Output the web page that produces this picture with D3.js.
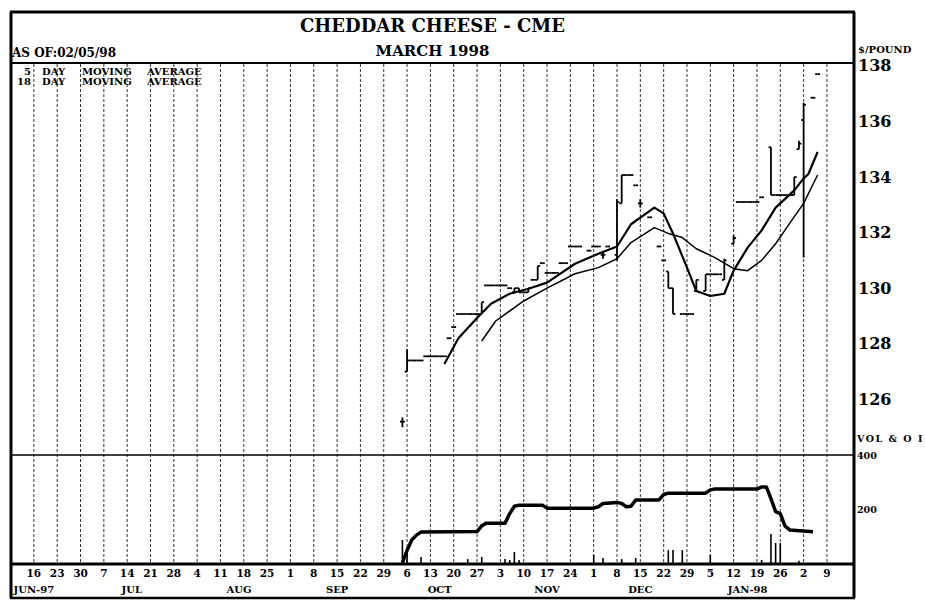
<!DOCTYPE html>
<html>
<head>
<meta charset="utf-8">
<script src="https://cdn.jsdelivr.net/npm/d3@7"></script>
<style>
    body { margin: 0; background: #fff; }
    svg { display: block; }
    text { font-family: "DejaVu Serif", serif; font-weight: bold; fill: #000; }
</style>
</head>
<body>
<div id="chart"></div>
<script>
// Cheddar Cheese - CME, March 1998 contract. Daily bars on a trading-day (weekday) axis.
(function () {
    "use strict";

    // daily bars: date, open, high, low, close ($/pound)
    var barDates = ["1997-10-03", "1997-10-06", "1997-10-07", "1997-10-08", "1997-10-09", "1997-10-10",
        "1997-10-13", "1997-10-14", "1997-10-15", "1997-10-16", "1997-10-17", "1997-10-20", "1997-10-21",
        "1997-10-22", "1997-10-23", "1997-10-24", "1997-10-27", "1997-10-28", "1997-10-29", "1997-10-30",
        "1997-10-31", "1997-11-03", "1997-11-04", "1997-11-05", "1997-11-06", "1997-11-07", "1997-11-10",
        "1997-11-11", "1997-11-12", "1997-11-13", "1997-11-14", "1997-11-17", "1997-11-18", "1997-11-19",
        "1997-11-20", "1997-11-21", "1997-11-24", "1997-11-25", "1997-11-26", "1997-11-28", "1997-12-01",
        "1997-12-02", "1997-12-03", "1997-12-04", "1997-12-08", "1997-12-09", "1997-12-10", "1997-12-11",
        "1997-12-12", "1997-12-15", "1997-12-17", "1997-12-19", "1997-12-22", "1997-12-23", "1997-12-24",
        "1997-12-26", "1997-12-29", "1997-12-30", "1997-12-31", "1998-01-02", "1998-01-05", "1998-01-06",
        "1998-01-07", "1998-01-08", "1998-01-12", "1998-01-13", "1998-01-14", "1998-01-15", "1998-01-16",
        "1998-01-19", "1998-01-20", "1998-01-22", "1998-01-23", "1998-01-26", "1998-01-27", "1998-01-28",
        "1998-01-29", "1998-01-30", "1998-02-02", "1998-02-04", "1998-02-05"];
    var barOpen = [125.2, 127.0, 127.4, 127.4, 127.4, 127.55, 127.55, 127.55, 127.55, 127.55, 128.2, 128.6, 129.07,
        129.07, 129.07, 129.07, 129.07, 129.07, 130.1, 130.1, 130.1, 130.1, 130.1, 130.0, 129.85, 130.0, 129.85,
        129.85, 130.3, 130.3, 130.9, 130.55, 130.55, 130.55, 130.9, 130.9, 131.5, 131.5, 131.5, 131.35, 131.5,
        131.5, 131.2, 131.5, 131.2, 133.05, 134.07, 134.07, 133.7, 133.05, 132.55, 131.5, 131.0, 130.6, 130.0,
        129.07, 129.07, 129.07, 129.9, 129.9, 130.5, 130.5, 130.5, 130.3, 131.6, 133.1, 133.1, 133.1, 133.1,
        133.1, 133.27, 135.07, 133.35, 133.35, 133.35, 133.35, 133.35, 135.0, 136.05, 136.85, 137.7];
    var barHigh = [125.35, 127.8, 127.4, 127.4, 127.4, 127.55, 127.55, 127.55, 127.55, 127.55, 128.2, 128.6, 129.07,
        129.07, 129.07, 129.07, 129.07, 129.5, 130.1, 130.1, 130.1, 130.1, 130.1, 130.0, 130.0, 130.0, 129.85,
        130.0, 130.3, 130.8, 130.9, 130.55, 130.55, 130.55, 130.9, 130.9, 131.5, 131.5, 131.5, 131.35, 131.5,
        131.5, 131.3, 131.5, 133.2, 134.07, 134.07, 134.07, 133.7, 133.2, 132.55, 131.5, 131.0, 130.6, 130.0,
        129.07, 129.07, 129.07, 130.3, 130.5, 130.5, 130.5, 130.5, 131.06, 131.9, 133.1, 133.1, 133.1, 133.1,
        133.1, 133.27, 135.07, 133.35, 133.35, 133.35, 133.35, 134.0, 135.3, 136.67, 136.85, 137.7];
    var barLow = [125.0, 127.0, 127.4, 127.4, 127.4, 127.55, 127.55, 127.55, 127.55, 127.55, 128.2, 128.6, 129.07,
        129.07, 129.07, 129.07, 129.07, 129.07, 130.1, 130.1, 130.1, 130.1, 130.1, 130.0, 129.85, 129.85, 129.85,
        129.85, 130.3, 130.3, 130.9, 130.55, 130.55, 130.55, 130.9, 130.9, 131.5, 131.5, 131.5, 131.35, 131.5,
        131.5, 131.06, 131.5, 131.0, 133.05, 134.07, 134.07, 133.7, 132.9, 132.55, 131.5, 131.0, 130.0, 129.07,
        129.07, 129.07, 129.07, 129.9, 129.9, 130.5, 130.5, 130.5, 130.3, 131.6, 133.1, 133.1, 133.1, 133.1,
        133.1, 133.27, 133.35, 133.35, 133.35, 133.35, 133.35, 133.35, 135.0, 131.1, 136.85, 137.7];
    var barClose = [125.2, 127.4, 127.4, 127.4, 127.4, 127.55, 127.55, 127.55, 127.55, 127.55, 128.2, 128.6, 129.07,
        129.07, 129.07, 129.07, 129.07, 129.5, 130.1, 130.1, 130.1, 130.1, 130.1, 130.0, 130.0, 129.85, 129.85,
        130.0, 130.3, 130.8, 130.9, 130.55, 130.55, 130.55, 130.9, 130.9, 131.5, 131.5, 131.5, 131.35, 131.5,
        131.5, 131.2, 131.5, 133.1, 134.07, 134.07, 134.07, 133.7, 133.05, 132.55, 131.5, 131.0, 130.0, 129.07,
        129.07, 129.07, 129.07, 130.3, 130.5, 130.5, 130.5, 130.5, 131.0, 131.8, 133.1, 133.1, 133.1, 133.1,
        133.1, 133.27, 133.35, 133.35, 133.35, 133.35, 133.35, 134.0, 135.2, 136.6, 136.85, 137.7];

    // moving averages as printed on the chart
    var ma5Dates = ["1997-10-16", "1997-10-21", "1997-10-27", "1997-10-30", "1997-11-05", "1997-11-11",
        "1997-11-17", "1997-11-25", "1997-12-02", "1997-12-08", "1997-12-11", "1997-12-18", "1997-12-22",
        "1997-12-24", "1997-12-29", "1997-12-31", "1998-01-05", "1998-01-08", "1998-01-12", "1998-01-15",
        "1998-01-20", "1998-01-23", "1998-01-29", "1998-02-02", "1998-02-03", "1998-02-05"];
    var ma5Values = [127.27, 128.2, 128.93, 129.44, 129.8, 129.98, 130.2, 130.88, 131.24, 131.5, 132.3, 132.9,
        132.69, 131.97, 130.74, 129.9, 129.72, 129.8, 130.63, 131.46, 132.08, 132.9, 133.52, 133.95, 134.1, 134.9];
    var ma18Dates = ["1997-10-28", "1997-10-31", "1997-11-10", "1997-11-17", "1997-11-25", "1997-12-02",
        "1997-12-08", "1997-12-11", "1997-12-18", "1997-12-23", "1997-12-26", "1997-12-31", "1998-01-06",
        "1998-01-12", "1998-01-15", "1998-01-20", "1998-01-23", "1998-01-28", "1998-02-02", "1998-02-05"];
    var ma18Values = [128.1, 128.82, 129.54, 130.0, 130.52, 130.74, 131.06, 131.64, 132.18, 131.97, 131.82,
        131.42, 131.1, 130.7, 130.63, 131.0, 131.6, 132.33, 133.05, 134.07];

    // volume (contracts)
    var volDates = ["1997-10-03", "1997-10-06", "1997-10-09", "1997-10-23", "1997-10-28", "1997-11-04",
        "1997-11-05", "1997-11-06", "1997-11-07", "1997-12-01", "1997-12-03", "1997-12-09", "1997-12-12",
        "1997-12-23", "1997-12-24", "1997-12-26", "1998-01-05", "1998-01-20", "1998-01-22", "1998-01-23",
        "1998-01-26", "1998-01-30"];
    var volValues = [88, 60, 26, 18, 26, 18, 15, 44, 15, 33, 22, 18, 22, 51, 51, 51, 33, 15, 110, 77, 77, 12];

    // open interest
    var oiDates = ["1997-10-03", "1997-10-06", "1997-10-07", "1997-10-08", "1997-10-09", "1997-10-27",
        "1997-10-28", "1997-10-29", "1997-11-04", "1997-11-05", "1997-11-06", "1997-11-07", "1997-11-14",
        "1997-11-17", "1997-12-01", "1997-12-02", "1997-12-03", "1997-12-08", "1997-12-09", "1997-12-10",
        "1997-12-11", "1997-12-12", "1997-12-19", "1997-12-22", "1997-12-23", "1998-01-02", "1998-01-05",
        "1998-01-06", "1998-01-19", "1998-01-20", "1998-01-21", "1998-01-22", "1998-01-23", "1998-01-26",
        "1998-01-27", "1998-01-28", "1998-02-04"];
    var oiValues = [5, 50, 88, 106, 117, 119, 140, 150, 150, 185, 212, 216, 216, 205, 205, 210, 222, 226, 222,
        210, 212, 235, 235, 255, 260, 260, 272, 275, 275, 283, 283, 240, 192, 185, 140, 125, 118];

    var priceTicks = [126, 128, 130, 132, 134, 136, 138];
    var volTicks = [200, 400];
    var monthDates = ["1997-06-15", "1997-07-15", "1997-08-15", "1997-09-15", "1997-10-15", "1997-11-15",
        "1997-12-15", "1998-01-15"];
    var monthLabels = ["JUN-97", "JUL", "AUG", "SEP", "OCT", "NOV", "DEC", "JAN-98"];

    var W = 925, H = 602;
    var L = 11, R = 854, TOP = 12, TITLE_B = 63, SPLIT = 455, AXIS = 564, BOTTOM = 598;

    var parse = d3.timeParse("%Y-%m-%d");
    var base = parse("1997-06-16");
    // weekday count from Mon 16 Jun 1997
    function tradeIndex(d) {
        var days = Math.round((d - base) / 864e5);
        var w = Math.floor(days / 7), r = days - w * 7;
        return w * 5 + Math.min(r, 5);
    }

    var x = d3.scaleLinear().domain([-4.9, 175.8]).range([L, R]);
    var yP = d3.scaleLinear().domain([124, 138.1]).range([SPLIT, TITLE_B]);
    var yV = d3.scaleLinear().domain([0, 400]).range([AXIS, SPLIT]);
    function xs(s) { return x(tradeIndex(parse(s))); }

    var svg = d3.select("#chart").append("svg").attr("width", W).attr("height", H);
    svg.append("rect").attr("width", W).attr("height", H).attr("fill", "#fff");

    // weekly grid
    var mondays = d3.timeMonday.range(parse("1997-06-16"), parse("1998-02-10"));
    svg.selectAll("line.grid").data(mondays).enter().append("line").attr("class", "grid")
        .attr("x1", function (d) { return x(tradeIndex(d)); })
        .attr("x2", function (d) { return x(tradeIndex(d)); })
        .attr("y1", TITLE_B + 1).attr("y2", AXIS)
        .attr("stroke", "#000").attr("stroke-width", 1).attr("stroke-dasharray", "3,2").attr("opacity", 0.8);

    svg.selectAll("text.day").data(mondays).enter().append("text").attr("class", "day")
        .attr("x", function (d) { return x(tradeIndex(d)); }).attr("y", 577)
        .attr("text-anchor", "middle").style("font-size", "10.5px")
        .text(function (d) { return d.getDate(); });
    svg.selectAll("text.month").data(monthDates).enter().append("text").attr("class", "month")
        .attr("x", function (d) { return xs(d); }).attr("y", 593)
        .attr("text-anchor", "middle").style("font-size", "10px")
        .text(function (d, i) { return monthLabels[i]; });

    // frame
    function hline(y, x1, x2, w) {
        svg.append("line").attr("x1", x1).attr("x2", x2).attr("y1", y).attr("y2", y)
            .attr("stroke", "#000").attr("stroke-width", w);
    }
    function vline(xv, y1, y2, w) {
        svg.append("line").attr("x1", xv).attr("x2", xv).attr("y1", y1).attr("y2", y2)
            .attr("stroke", "#000").attr("stroke-width", w);
    }
    hline(TOP, L - 1, R + 1, 3);
    hline(TITLE_B, L, R, 2);
    hline(SPLIT, L, R, 1.5);
    hline(AXIS, L, R, 3);
    hline(BOTTOM, L - 1, R + 1, 2.5);
    vline(L, TOP, BOTTOM, 3);
    vline(R, TOP, BOTTOM, 3);

    // titles
    svg.append("text").attr("x", (L + R) / 2).attr("y", 32).attr("text-anchor", "middle")
        .style("font-size", "18px").text("CHEDDAR CHEESE - CME");
    svg.append("text").attr("x", (L + R) / 2).attr("y", 56).attr("text-anchor", "middle")
        .style("font-size", "15px").text("MARCH 1998");
    svg.append("text").attr("x", 12).attr("y", 57).style("font-size", "12px").text("AS OF:02/05/98");

    // legend
    [5, 18].forEach(function (n, i) {
        var yy = 75 + i * 9.5;
        svg.append("text").attr("x", 31).attr("y", yy).attr("text-anchor", "end").style("font-size", "10px").text(n);
        svg.append("text").attr("x", 42).attr("y", yy).style("font-size", "10px").text("DAY");
        svg.append("text").attr("x", 82).attr("y", yy).style("font-size", "10px").text("MOVING");
        svg.append("text").attr("x", 147).attr("y", yy).style("font-size", "10px").text("AVERAGE");
    });

    // right axes
    var ga = svg.append("g").attr("transform", "translate(" + (R + 1) + ",0)")
        .call(d3.axisRight(yP).tickValues(priceTicks).tickSize(0).tickPadding(3).tickFormat(d3.format("d")));
    ga.select(".domain").remove();
    ga.selectAll("text").style("font-size", "16px").style("font-family", "DejaVu Serif").attr("fill", "#000");
    var gv = svg.append("g").attr("transform", "translate(" + (R + 1) + ",0)")
        .call(d3.axisRight(yV).tickValues(volTicks).tickSize(0).tickPadding(2).tickFormat(d3.format("d")));
    gv.select(".domain").remove();
    gv.selectAll("text").style("font-size", "9.5px").style("font-family", "DejaVu Serif").attr("fill", "#000");
    svg.append("text").attr("x", 858).attr("y", 53).style("font-size", "10px").text("$/POUND");
    svg.append("text").attr("x", 857).attr("y", 442).style("font-size", "9.5px")
        .style("letter-spacing", "1.5px").text("VOL & O I");

    // price bars
    var tick = 2.4;
    var bars = svg.append("g").attr("stroke", "#000").attr("stroke-width", 1.8);
    barDates.forEach(function (d, i) {
        var xv = xs(d);
        if (barHigh[i] > barLow[i]) {
            bars.append("line").attr("x1", xv).attr("x2", xv)
                .attr("y1", yP(barHigh[i])).attr("y2", yP(barLow[i]));
        }
        bars.append("line").attr("x1", xv - tick).attr("x2", xv)
            .attr("y1", yP(barOpen[i])).attr("y2", yP(barOpen[i]));
        bars.append("line").attr("x1", xv).attr("x2", xv + tick)
            .attr("y1", yP(barClose[i])).attr("y2", yP(barClose[i]));
    });

    // moving averages
    var maLine = d3.line().x(function (d) { return xs(d[0]); }).y(function (d) { return yP(d[1]); });
    svg.append("path").datum(d3.zip(ma5Dates, ma5Values)).attr("d", maLine)
        .attr("fill", "none").attr("stroke", "#000").attr("stroke-width", 2.2).attr("stroke-linejoin", "round");
    svg.append("path").datum(d3.zip(ma18Dates, ma18Values)).attr("d", maLine)
        .attr("fill", "none").attr("stroke", "#000").attr("stroke-width", 1.5).attr("stroke-linejoin", "round");

    // volume spikes
    svg.selectAll("line.vol").data(d3.zip(volDates, volValues)).enter().append("line").attr("class", "vol")
        .attr("x1", function (d) { return xs(d[0]); }).attr("x2", function (d) { return xs(d[0]); })
        .attr("y1", yV(0)).attr("y2", function (d) { return yV(d[1]); })
        .attr("stroke", "#000").attr("stroke-width", 1.6);

    // open interest
    var oiLine = d3.line().x(function (d) { return xs(d[0]); }).y(function (d) { return yV(d[1]); });
    svg.append("path").datum(d3.zip(oiDates, oiValues)).attr("d", oiLine)
        .attr("fill", "none").attr("stroke", "#000").attr("stroke-width", 3.5).attr("stroke-linejoin", "round");
})();
</script>
</body>
</html>
